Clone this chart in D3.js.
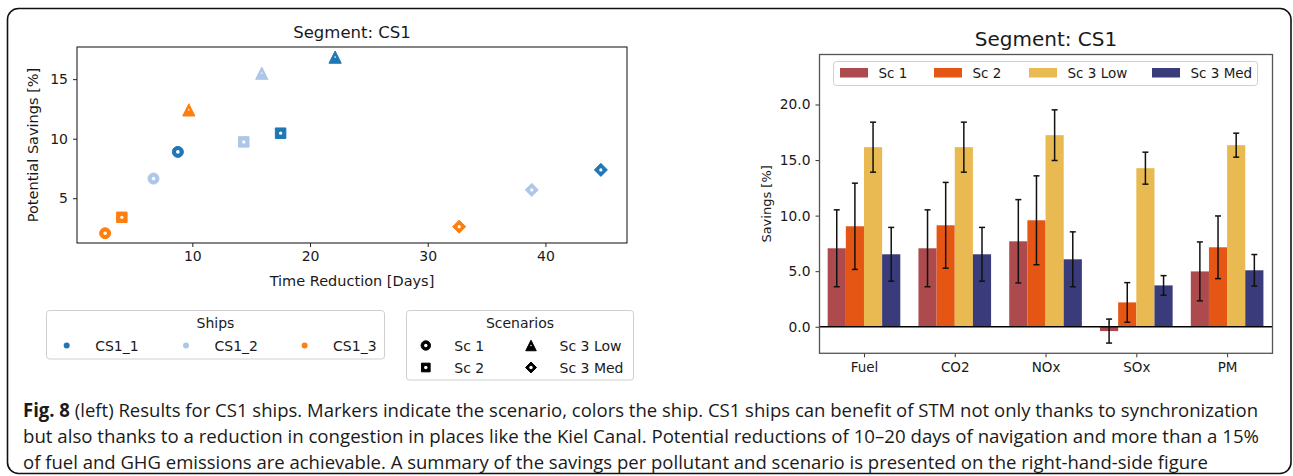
<!DOCTYPE html>
<html><head><meta charset="utf-8">
<script src="https://cdn.jsdelivr.net/npm/d3@7"></script>
<style>
html,body{margin:0;padding:0;background:#fff;}
svg{display:block;}
text{font-family:"DejaVu Sans",sans-serif;fill:#1a1a1a;}
</style></head><body>
<svg id="c" width="1293" height="476"></svg>
<script>
// ---------- data ----------
const ships = ["CS1_1", "CS1_2", "CS1_3"];
const shipColors = ["#1f77b4", "#aec7e8", "#ff7f0e"];
const scenarios = ["Sc 1", "Sc 2", "Sc 3 Low", "Sc 3 Med"];
// time reduction [days] per ship, per scenario
const timeCS1_1 = [8.77, 17.5, 22.13, 44.71];
const timeCS1_2 = [6.70, 14.37, 15.9, 38.84];
const timeCS1_3 = [2.59, 4.01, 9.70, 32.67];
// potential savings [%] per ship, per scenario
const saveCS1_1 = [8.89, 10.46, 16.85, 7.38];
const saveCS1_2 = [6.65, 9.73, 15.5, 5.70];
const saveCS1_3 = [2.06, 3.40, 12.42, 2.61];
const scatterXTicks = [10, 20, 30, 40];
const scatterYTicks = [5, 10, 15];

const pollutants = ["Fuel", "CO2", "NOx", "SOx", "PM"];
const sc1 = [7.06, 7.06, 7.69, -0.39, 4.98];
const sc1Err = [3.46, 3.46, 3.75, 1.08, 2.65];
const sc2 = [9.04, 9.13, 9.58, 2.19, 7.15];
const sc2Err = [3.88, 3.86, 4.0, 1.78, 2.82];
const sc3Low = [16.16, 16.16, 17.24, 14.27, 16.34];
const sc3LowErr = [2.25, 2.25, 2.28, 1.44, 1.08];
const sc3Med = [6.52, 6.52, 6.07, 3.72, 5.08];
const sc3MedErr = [2.42, 2.42, 2.47, 0.88, 1.42];
const barColors = ["#ad4a4d", "#e55513", "#e9b952", "#393b7a"];
const barYTicks = [0, 5, 10, 15, 20];

const captionLines = [
  ["Fig. 8", " (left) Results for CS1 ships. Markers indicate the scenario, colors the ship. CS1 ships can benefit of STM not only thanks to synchronization"],
  ["", "but also thanks to a reduction in congestion in places like the Kiel Canal. Potential reductions of 10\u201320 days of navigation and more than a 15%"],
  ["", "of fuel and GHG emissions are achievable. A summary of the savings per pollutant and scenario is presented on the right-hand-side figure"]
];

// ---------- setup ----------
const svg = d3.select("#c");
svg.append("rect").attr("x", 7.5).attr("y", 8.5).attr("width", 1283.5).attr("height", 465)
  .attr("rx", 11).attr("fill", "none").attr("stroke", "#111").attr("stroke-width", 1.6);

// custom marker shapes
const triUp = { draw(ctx, size) { const w = Math.sqrt(size); ctx.moveTo(0, -w / 2); ctx.lineTo(w / 2, w / 2); ctx.lineTo(-w / 2, w / 2); ctx.closePath(); } };
const sq = { draw(ctx, size) { const w = Math.sqrt(size) / 2; ctx.rect(-w, -w, 2 * w, 2 * w); } };
const diam = { draw(ctx, size) { const w = Math.sqrt(size) / 2; ctx.moveTo(0, -w); ctx.lineTo(w, 0); ctx.lineTo(0, w); ctx.lineTo(-w, 0); ctx.closePath(); } };
const shapeTypes = [d3.symbolCircle, sq, triUp, diam];
const shapeSizes = [95, 110, 150, 170];
const holeR = [1.8, 1.6, 0.8, 1.6];

// ---------- left scatter ----------
const L = { l: 77, r: 627, t: 47, b: 243 };
const x1 = d3.scaleLinear().domain([0.2, 46.93]).range([L.l, L.r]);
const y1 = d3.scaleLinear().domain([1.24, 17.7]).range([L.b, L.t]);
const gL = svg.append("g");
gL.append("g").attr("transform", `translate(0,${L.b})`)
  .call(d3.axisBottom(x1).tickValues(scatterXTicks).tickSize(4).tickPadding(4))
  .call(g => { g.select(".domain").remove(); g.selectAll("text").attr("font-size", 14).attr("font-family", "DejaVu Sans").attr("fill", "#1a1a1a"); g.selectAll("line").attr("stroke", "#222"); });
gL.append("g").attr("transform", `translate(${L.l},0)`)
  .call(d3.axisLeft(y1).tickValues(scatterYTicks).tickSize(4).tickPadding(5))
  .call(g => { g.select(".domain").remove(); g.selectAll("text").attr("font-size", 14).attr("font-family", "DejaVu Sans").attr("fill", "#1a1a1a"); g.selectAll("line").attr("stroke", "#222"); });
gL.append("rect").attr("x", L.l).attr("y", L.t).attr("width", L.r - L.l).attr("height", L.b - L.t)
  .attr("fill", "none").attr("stroke", "#222").attr("stroke-width", 1.1);

const timeByShip = [timeCS1_1, timeCS1_2, timeCS1_3];
const saveByShip = [saveCS1_1, saveCS1_2, saveCS1_3];
const pts = [];
ships.forEach((s, i) => scenarios.forEach((sc, j) => pts.push({ ship: i, sc: j, x: timeByShip[i][j], y: saveByShip[i][j] })));
const pg = gL.selectAll("g.pt").data(pts).join("g").attr("class", "pt")
  .attr("transform", d => `translate(${x1(d.x)},${y1(d.y)})`);
pg.append("path").attr("d", d => d3.symbol().type(shapeTypes[d.sc]).size(shapeSizes[d.sc])())
  .attr("fill", d => shipColors[d.ship]).attr("stroke", d => shipColors[d.ship]).attr("stroke-width", 1).attr("stroke-linejoin", "round");
pg.append("circle").attr("r", d => holeR[d.sc]).attr("fill", "#fff");

gL.append("text").attr("x", (L.l + L.r) / 2).attr("y", 38).attr("text-anchor", "middle").attr("font-size", 16.5).text("Segment: CS1");
gL.append("text").attr("x", (L.l + L.r) / 2).attr("y", 286).attr("text-anchor", "middle").attr("font-size", 14.5).text("Time Reduction [Days]");
gL.append("text").attr("transform", `translate(38,${(L.t + L.b) / 2}) rotate(-90)`).attr("text-anchor", "middle").attr("font-size", 14.5).text("Potential Savings [%]");

// Ships legend
const lg1 = svg.append("g");
lg1.append("rect").attr("x", 46.5).attr("y", 310.5).attr("width", 338).attr("height", 48.5).attr("rx", 3)
  .attr("fill", "#fff").attr("stroke", "#cfcfcf").attr("stroke-width", 1);
lg1.append("text").attr("x", 215.5).attr("y", 328).attr("text-anchor", "middle").attr("font-size", 14).text("Ships");
const shipLegX = [66.7, 186, 304.6];
ships.forEach((s, i) => {
  lg1.append("circle").attr("cx", shipLegX[i]).attr("cy", 345.5).attr("r", 3).attr("fill", shipColors[i]);
  lg1.append("text").attr("x", shipLegX[i] + 28.5).attr("y", 350.5).attr("font-size", 14).text(s);
});
// Scenarios legend
const lg2 = svg.append("g");
lg2.append("rect").attr("x", 406.5).attr("y", 310.5).attr("width", 227).attr("height", 69.5).attr("rx", 3)
  .attr("fill", "#fff").attr("stroke", "#cfcfcf").attr("stroke-width", 1);
lg2.append("text").attr("x", 520).attr("y", 328).attr("text-anchor", "middle").attr("font-size", 14).text("Scenarios");
const scLeg = [[425.8, 345.5], [425.8, 367.5], [531, 345.5], [531, 367.5]];
const legSizes = [70, 75, 110, 120];
scenarios.forEach((sc, j) => {
  const g = lg2.append("g").attr("transform", `translate(${scLeg[j][0]},${scLeg[j][1]})`);
  g.append("path").attr("d", d3.symbol().type(shapeTypes[j]).size(legSizes[j])()).attr("fill", "#000").attr("stroke", "#000").attr("stroke-linejoin", "round");
  g.append("circle").attr("r", j === 2 ? 0.7 : 1.7).attr("fill", "#fff");
  lg2.append("text").attr("x", scLeg[j][0] + 28.5).attr("y", scLeg[j][1] + 5).attr("font-size", 14).text(sc);
});

// ---------- right bar chart ----------
const R = { l: 819.5, r: 1272.5, t: 54.5, b: 353.3 };
const x2 = d3.scaleLinear().domain([-0.49, 4.5]).range([R.l, R.r]);
const y2 = d3.scaleLinear().domain([-2.39, 24.5]).range([R.b, R.t]);
const gR = svg.append("g");
const series = [[sc1, sc1Err], [sc2, sc2Err], [sc3Low, sc3LowErr], [sc3Med, sc3MedErr]];
const offsets = [-0.3, -0.1, 0.1, 0.3];
const bars = [];
series.forEach((s, k) => pollutants.forEach((p, i) => bars.push({ k, i, v: s[0][i], e: s[1][i] })));
gR.selectAll("rect.bar").data(bars).join("rect").attr("class", "bar")
  .attr("x", d => x2(i => 0) || x2(d.i + offsets[d.k] - 0.1))
  .attr("width", d => x2(0.2) - x2(0))
  .attr("y", d => y2(Math.max(0, d.v)))
  .attr("height", d => Math.abs(y2(d.v) - y2(0)))
  .attr("fill", d => barColors[d.k]);
gR.selectAll("rect.bar").attr("x", d => x2(d.i + offsets[d.k] - 0.1));
// error bars
const eg = gR.selectAll("g.err").data(bars).join("g").attr("class", "err").attr("stroke", "#111").attr("stroke-width", 1.5);
eg.append("line").attr("x1", d => x2(d.i + offsets[d.k])).attr("x2", d => x2(d.i + offsets[d.k]))
  .attr("y1", d => y2(d.v - d.e)).attr("y2", d => y2(d.v + d.e));
eg.append("line").attr("x1", d => x2(d.i + offsets[d.k]) - 3).attr("x2", d => x2(d.i + offsets[d.k]) + 3)
  .attr("y1", d => y2(d.v - d.e)).attr("y2", d => y2(d.v - d.e));
eg.append("line").attr("x1", d => x2(d.i + offsets[d.k]) - 3).attr("x2", d => x2(d.i + offsets[d.k]) + 3)
  .attr("y1", d => y2(d.v + d.e)).attr("y2", d => y2(d.v + d.e));
// zero line
gR.append("line").attr("x1", R.l).attr("x2", R.r).attr("y1", y2(0)).attr("y2", y2(0)).attr("stroke", "#000").attr("stroke-width", 1.3);
// axes
gR.append("g").attr("transform", `translate(0,${R.b})`)
  .call(d3.axisBottom(x2).tickValues(d3.range(pollutants.length)).tickFormat(i => pollutants[i]).tickSize(4).tickPadding(5))
  .call(g => { g.select(".domain").remove(); g.selectAll("text").attr("font-size", 13.5).attr("font-family", "DejaVu Sans").attr("fill", "#1a1a1a"); g.selectAll("line").attr("stroke", "#333"); });
gR.append("g").attr("transform", `translate(${R.l},0)`)
  .call(d3.axisLeft(y2).tickValues(barYTicks).tickFormat(d3.format(".1f")).tickSize(4).tickPadding(5))
  .call(g => { g.select(".domain").remove(); g.selectAll("text").attr("font-size", 13.8).attr("font-family", "DejaVu Sans").attr("fill", "#1a1a1a"); g.selectAll("line").attr("stroke", "#333"); });
gR.append("rect").attr("x", R.l).attr("y", R.t).attr("width", R.r - R.l).attr("height", R.b - R.t)
  .attr("fill", "none").attr("stroke", "#555").attr("stroke-width", 1.3);
gR.append("text").attr("x", (R.l + R.r) / 2).attr("y", 46).attr("text-anchor", "middle").attr("font-size", 20).text("Segment: CS1");
gR.append("text").attr("transform", `translate(771,${(R.t + R.b) / 2}) rotate(-90)`).attr("text-anchor", "middle").attr("font-size", 13).text("Savings [%]");
// bar legend
const lg3 = gR.append("g");
lg3.append("rect").attr("x", 833.5).attr("y", 61.5).attr("width", 424).attr("height", 24).attr("rx", 3)
  .attr("fill", "#fff").attr("stroke", "#d0d0d0").attr("stroke-width", 1);
const barLegX = [840, 934, 1029, 1152];
scenarios.forEach((sc, k) => {
  lg3.append("rect").attr("x", barLegX[k]).attr("y", 68).attr("width", 28).attr("height", 9.5).attr("fill", barColors[k]);
  lg3.append("text").attr("x", barLegX[k] + 38.5).attr("y", 77.5).attr("font-size", 13.5).text(sc);
});

// ---------- caption ----------
const capW = [1235, 1236, 1185];
const capY = [416.5, 443, 469];
captionLines.forEach((ln, i) => {
  const t = svg.append("text").attr("x", 23).attr("y", capY[i]).attr("font-size", 19)
    .attr("font-family", "Open Sans").attr("textLength", capW[i]).attr("lengthAdjust", "spacingAndGlyphs")
    .style("font-family", "'Open Sans', sans-serif");
  if (ln[0]) t.append("tspan").attr("font-weight", "bold").text(ln[0]);
  t.append("tspan").text(ln[1]);
});
</script>
</body></html>
